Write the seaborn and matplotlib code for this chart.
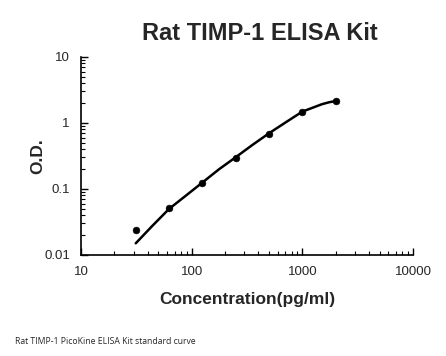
import numpy as np
import pandas as pd
import seaborn as sns
import matplotlib.pyplot as plt
from matplotlib.ticker import LogLocator, FixedFormatter, FixedLocator, NullFormatter

# standard points (concentration pg/ml, O.D.)
conc = [31.25, 62.5, 125, 250, 500, 1000, 2000]
od = [0.0237, 0.0509, 0.123, 0.299, 0.689, 1.45, 2.13]

# fitted curve
curve_conc = [31.25, 44, 62.5, 88, 125, 177, 250, 354, 500, 707, 1000, 1250, 1500, 1750, 2000]
curve_od = [0.0150, 0.0274, 0.0498, 0.0783, 0.125, 0.199, 0.302, 0.464, 0.697, 1.02, 1.485,
            1.71, 1.92, 2.06, 2.15]

x_ticks = [10, 100, 1000, 10000]
x_labels = ['10', '100', '1000', '10000']
y_ticks = [0.01, 0.1, 1, 10]
y_labels = ['0.01', '0.1', '1', '10']

sns.set_theme(style='white')
plt.rcParams['font.family'] = ['Liberation Sans', 'DejaVu Sans']

fig = plt.figure(figsize=(4.46, 3.56), dpi=100)
ax = fig.add_axes([0.1816, 0.284, 0.926 - 0.1816, 0.840 - 0.284])

df_pts = pd.DataFrame({'conc': conc, 'od': od})
df_fit = pd.DataFrame({'conc': curve_conc, 'od': curve_od})

sns.lineplot(data=df_fit, x='conc', y='od', ax=ax, color='black', linewidth=1.8)
sns.scatterplot(data=df_pts, x='conc', y='od', ax=ax, color='black', s=24,
                edgecolor='black', zorder=3)

ax.set_xscale('log')
ax.set_yscale('log')
ax.set_xlim(10, 10000)
ax.set_ylim(0.01, 10)

ax.xaxis.set_major_locator(FixedLocator(x_ticks))
ax.xaxis.set_major_formatter(FixedFormatter(x_labels))
ax.yaxis.set_major_locator(FixedLocator(y_ticks))
ax.yaxis.set_major_formatter(FixedFormatter(y_labels))
ax.xaxis.set_minor_locator(LogLocator(base=10, subs=np.arange(2, 10)))
ax.yaxis.set_minor_locator(LogLocator(base=10, subs=np.arange(2, 10)))
ax.xaxis.set_minor_formatter(NullFormatter())
ax.yaxis.set_minor_formatter(NullFormatter())

ax.tick_params(which='major', direction='in', length=5, width=1, color='black',
               labelsize=9.5, pad=8, bottom=True, left=True)
ax.tick_params(which='minor', direction='in', length=3, width=0.8, color='black',
               bottom=True, left=True)

for side in ['top', 'right']:
    ax.spines[side].set_visible(False)
for side in ['left', 'bottom']:
    ax.spines[side].set_color('black')
    ax.spines[side].set_linewidth(1.2)

ax.set_xlabel('Concentration(pg/ml)', fontsize=12.5, fontweight='bold', labelpad=10)
ax.set_ylabel('O.D.', fontsize=12.5, fontweight='bold', labelpad=-1)

fig.text(0.583, 0.905, 'Rat TIMP-1 ELISA Kit', fontsize=17, fontweight='bold',
         ha='center', va='center')
fig.text(0.034, 0.04, 'Rat TIMP-1 PicoKine ELISA Kit standard curve', fontsize=6.2,
         ha='left', va='center', family=['Open Sans', 'DejaVu Sans'])

fig.savefig('out.png', dpi=100)
